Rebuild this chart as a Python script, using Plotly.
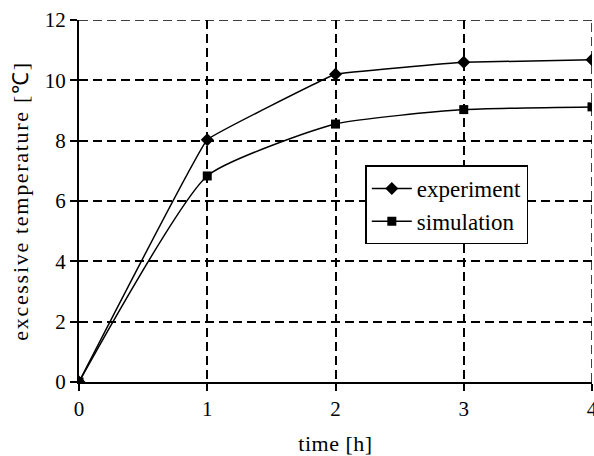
import plotly.graph_objects as go

time_h = [0, 1, 2, 3, 4]
experiment = [0, 8.03, 10.2, 10.6, 10.68]
simulation = [0, 6.83, 8.55, 9.03, 9.12]

x_ticks = [0, 1, 2, 3, 4]
y_ticks = [0, 2, 4, 6, 8, 10, 12]

font_family = "Liberation Serif"
fs_tick = 21
fs_text = 22

fig = go.Figure()
fig.add_trace(go.Scatter(
    x=time_h, y=experiment, name="experiment",
    mode="lines+markers",
    line=dict(color="black", width=1.5, shape="spline", smoothing=0.15),
    marker=dict(symbol="diamond", size=10, color="black"),
))
fig.add_trace(go.Scatter(
    x=time_h, y=simulation, name="simulation",
    mode="lines+markers",
    line=dict(color="black", width=1.5, shape="spline", smoothing=0.5),
    marker=dict(symbol="square", size=9, color="black"),
))

dash = "9px,5px"
grid_common = dict(
    showgrid=True, gridcolor="black", gridwidth=1.5, griddash=dash,
    zeroline=False, showline=True, linecolor="black", linewidth=2,
    ticks="outside", ticklen=7, tickwidth=1.5, tickcolor="black",
    tickfont=dict(family=font_family, size=fs_tick, color="black"),
    ticklabeloverflow="allow",
)

fig.update_xaxes(
    range=[x_ticks[0], x_ticks[-1]], tickvals=x_ticks,
    title=dict(text="time [h]", font=dict(family=font_family, size=fs_text, color="black")),
    automargin=False,
    **grid_common,
)
fig.update_yaxes(
    range=[y_ticks[0], y_ticks[-1]], tickvals=y_ticks,
    title=dict(text="excessive temperature [℃]", font=dict(family=font_family, size=fs_text, color="black"), standoff=10),
    automargin=True,
    **grid_common,
)

# dashed grid lines on the top and right edges of the plot area
fig.add_shape(type="line", xref="x domain", yref="y", x0=0, x1=1, y0=y_ticks[-1], y1=y_ticks[-1],
              line=dict(color="black", width=1.5, dash=dash))
fig.add_shape(type="line", xref="x", yref="y domain", x0=x_ticks[-1], x1=x_ticks[-1], y0=0, y1=1,
              line=dict(color="black", width=1.5, dash=dash))

fig.update_layout(
    width=594, height=456,
    margin=dict(l=79, r=2, t=20, b=74),
    paper_bgcolor="white", plot_bgcolor="white",
    showlegend=True,
    legend=dict(
        x=0.717, y=0.489, xanchor="center", yanchor="middle",
        bordercolor="black", borderwidth=1.5, bgcolor="white",
        font=dict(family=font_family, size=23, color="black"),
        tracegroupgap=4, itemwidth=40,
    ),
)

fig.write_html(
    "out.html",
    config={"displayModeBar": False},
    post_script=(
        "document.body.style.margin='0';document.body.style.overflow='hidden';"
        "document.querySelectorAll('.ytitle').forEach(function(e){e.style.letterSpacing='1.7px';});"
        "document.querySelectorAll('.xtitle').forEach(function(e){e.style.letterSpacing='0.5px';});"
    ),
)
